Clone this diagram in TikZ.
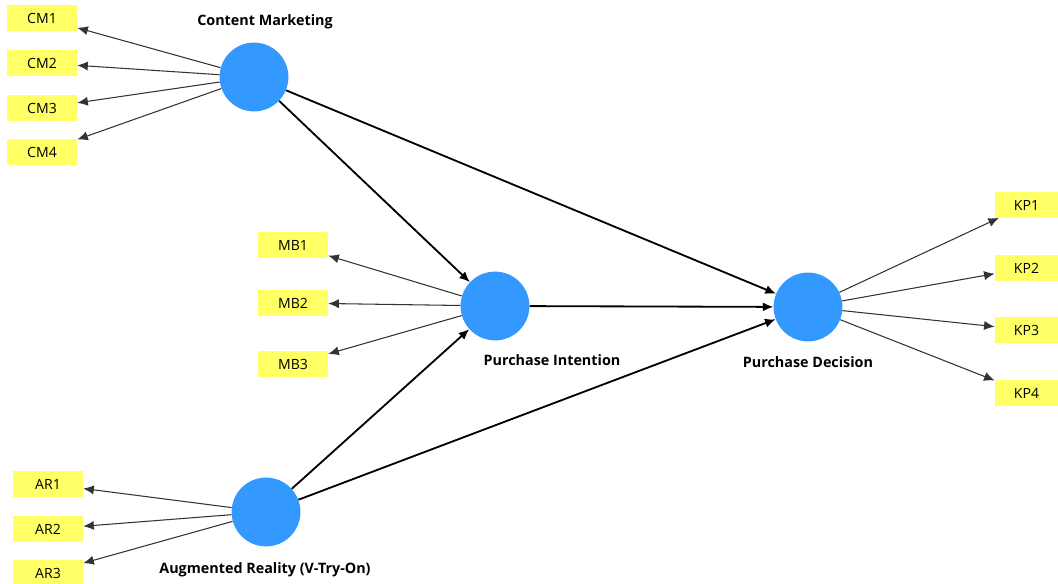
\documentclass[tikz,border=0pt]{standalone}
\usepackage{fontspec}
\setmainfont{Open Sans}
\usetikzlibrary{arrows.meta,positioning}
\definecolor{lvblue}{HTML}{3399FF}
\definecolor{indyellow}{HTML}{FFFF66}
\tikzset{
latent/.style = {circle, fill=lvblue, minimum size=1.72cm, inner sep=0pt},
indicator/.style = {rectangle, fill=indyellow, minimum width=1.75cm, minimum height=0.63cm, inner sep=0pt, font=\fontsize{10}{12}\selectfont},
lvname/.style = {font=\fontsize{10.2}{12}\selectfont\bfseries, text height=1.6ex, text depth=0.4ex},
loading/.style = {->, draw=black!80, line width=0.75pt},
structural/.style = {->, draw=black, line width=1.3pt}
}

\begin{document}
\begin{tikzpicture}[x=0.025cm, y=-0.025cm, >={Latex[length=7.5pt,width=6.5pt]}]
  \useasboundingbox (0,0) rectangle (1058,584);

  \node [latent]                (cm)      at (254,77)   {};
  \node [latent]                (pi)      at (495,306)  {};
  \node [latent]                (pd)      at (808,307)  {};
  \node [latent]                (ar)      at (266,512)  {};

  \node [lvname]                (cmname)  at (265,21)   {Content Marketing};
  \node [lvname]                (piname)  at (552,361)  {Purchase Intention};
  \node [lvname]                (pdname)  at (808,363)  {Purchase Decision};
  \node [lvname]                (arname)  at (265,569)  {Augmented Reality (V-Try-On)};

  \node [indicator]             (cm1)     at (42,18)    {CM1};
  \node [indicator]             (cm2)     at (42,63)    {CM2};
  \node [indicator]             (cm3)     at (42,108)   {CM3};
  \node [indicator]             (cm4)     at (42,152)   {CM4};
  \node [indicator]             (mb1)     at (293,245)  {MB1};
  \node [indicator]             (mb2)     at (293,303)  {MB2};
  \node [indicator]             (mb3)     at (293,364)  {MB3};
  \node [indicator, minimum width=1.58cm] (kp1) at (1026.5,205) {KP1};
  \node [indicator, minimum width=1.58cm] (kp2) at (1026.5,268) {KP2};
  \node [indicator, minimum width=1.58cm] (kp3) at (1026.5,330) {KP3};
  \node [indicator, minimum width=1.58cm] (kp4) at (1026.5,393) {KP4};
  \node [indicator]             (ar1)     at (48,484)   {AR1};
  \node [indicator]             (ar2)     at (48,529)   {AR2};
  \node [indicator]             (ar3)     at (48,573)   {AR3};

  \draw [loading] (cm) -- (cm1);
  \draw [loading] (cm) -- (cm2);
  \draw [loading] (cm) -- (cm3);
  \draw [loading] (cm) -- (cm4);
  \draw [loading] (pi) -- (mb1);
  \draw [loading] (pi) -- (mb2);
  \draw [loading] (pi) -- (mb3);
  \draw [loading] (pd) -- (kp1);
  \draw [loading] (pd) -- (kp2);
  \draw [loading] (pd) -- (kp3);
  \draw [loading] (pd) -- (kp4);
  \draw [loading] (ar) -- (ar1);
  \draw [loading] (ar) -- (ar2);
  \draw [loading] (ar) -- (ar3);

  \draw [structural] (cm) -- (pi);
  \draw [structural] (cm) -- (pd);
  \draw [structural] (pi) -- (pd);
  \draw [structural] (ar) -- (pi);
  \draw [structural] (ar) -- (pd);
\end{tikzpicture}
\end{document}
